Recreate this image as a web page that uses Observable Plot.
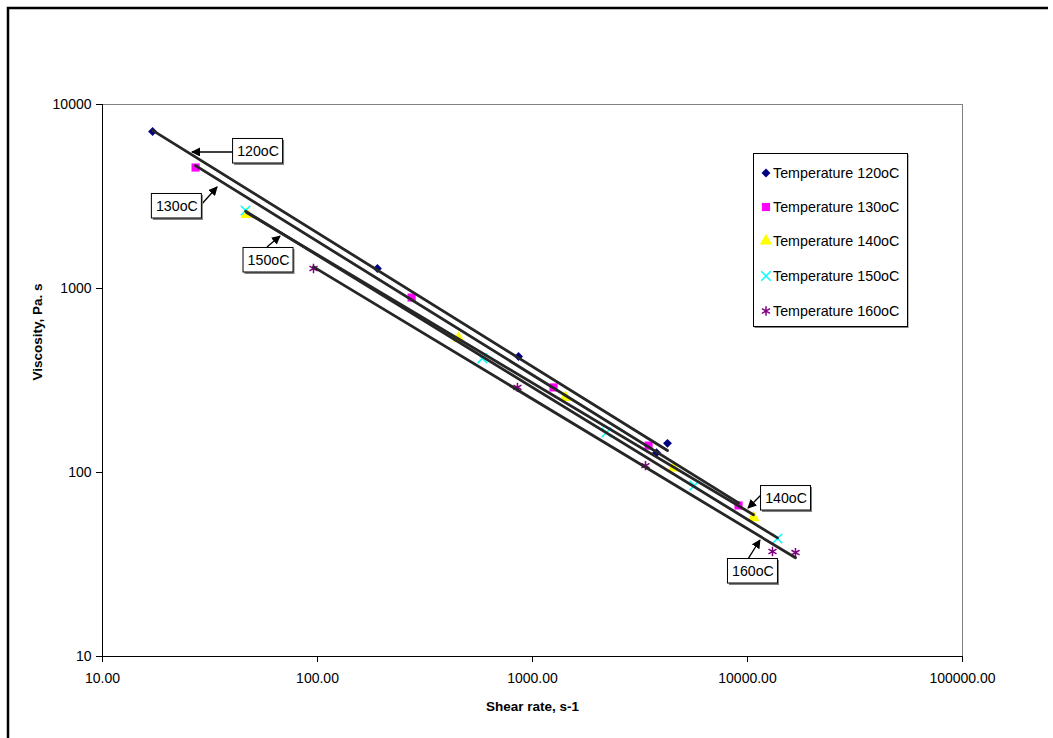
<!DOCTYPE html>
<html><head><meta charset="utf-8">
<script src="https://cdn.jsdelivr.net/npm/d3@7"></script>
<script src="https://cdn.jsdelivr.net/npm/@observablehq/plot@0.6"></script>
<style>
body{margin:0;background:#fff;}
#chart{position:relative;width:1053px;height:738px;}
</style></head><body><div id="chart"></div>
<script>
// ---- data ----
const temps = ["120oC", "130oC", "140oC", "150oC", "160oC"];
const legendLabels = ["Temperature 120oC", "Temperature 130oC", "Temperature 140oC", "Temperature 150oC", "Temperature 160oC"];
const shear120 = [17.1, 190, 861, 3775, 4245];
const visc120  = [7130, 1285, 427, 128, 144];
const shear130 = [27.1, 274, 1253, 3466, 9084];
const visc130  = [4545, 893, 290, 140, 66.2];
const shear140 = [46.8, 453, 1424, 4527, 10660];
const visc140  = [2524, 535, 256, 106, 56.9];
const shear150 = [46.3, 585, 2208, 5666, 13790];
const visc150  = [2655, 417, 165, 85, 43.8];
const shear160 = [95.8, 851, 3354, 13070, 16720];
const visc160  = [1285, 290, 109, 37.2, 36.7];
const xTicks = [10, 100, 1000, 10000, 100000];
const yTicks = [10, 100, 1000, 10000];
const xTitle = "Shear rate, s-1";
const yTitle = "Viscosity, Pa. s";
// callout annotations (data coordinates): label box centre, arrow start, arrow tip
const notes = [
  {text: "120oC", bx: 53.2, by: 5555, sx: 40.7, sy: 5485, ex: 26.2, ey: 5485},
  {text: "130oC", bx: 22.3, by: 2791, sx: 28.3, sy: 2755, ex: 34.3, ey: 3539},
  {text: "150oC", bx: 59.5, by: 1420, sx: 58.5, sy: 1670, ex: 67.3, ey: 1917},
  {text: "140oC", bx: 15190, by: 72.2, sx: 11740, sy: 75.9, ex: 10110, ey: 63.7},
  {text: "160oC", bx: 10660, by: 28.97, sx: 10110, sy: 33.7, ex: 11490, ey: 42.7}
];

// ---- styles ----
const shears = [shear120, shear130, shear140, shear150, shear160];
const viscs = [visc120, visc130, visc140, visc150, visc160];
const styles = [
  {symbol: "diamond2", fill: "#000080", stroke: "none", r: 4.0, sw: 0},
  {symbol: "square", fill: "#FF00FF", stroke: "none", r: 4.6, sw: 0},
  {symbol: "triangle", fill: "#FFFF00", stroke: "none", r: 4.6, sw: 0},
  {symbol: "times", fill: "none", stroke: "#00FFFF", r: 4.4, sw: 1.5},
  {symbol: "asterisk", fill: "none", stroke: "#800080", r: 4.4, sw: 1.5}
];
const d3sym = {diamond2: d3.symbolDiamond2, square: d3.symbolSquare, triangle: d3.symbolTriangle, times: d3.symbolTimes, asterisk: d3.symbolAsterisk};

const series = temps.map((t, i) => ({
  name: t,
  rows: shears[i].map((x, j) => ({shear: x, visc: viscs[i][j]})),
  ...styles[i]
}));

function powerFit(rows) {
  const lx = rows.map(d => Math.log10(d.shear)), ly = rows.map(d => Math.log10(d.visc));
  const mx = d3.mean(lx), my = d3.mean(ly);
  const b = d3.sum(lx, (v, k) => (v - mx) * (ly[k] - my)) / d3.sum(lx, v => (v - mx) ** 2);
  const a = my - b * mx;
  const [x0, x1] = d3.extent(rows, d => d.shear);
  return [x0, x1].map(x => ({shear: x, visc: 10 ** (a + b * Math.log10(x))}));
}

const font = "Arial, 'Liberation Sans', sans-serif";

const marks = [
  Plot.frame({stroke: "#808080", strokeWidth: 1}),
  Plot.ruleX([10], {stroke: "#000"}),
  Plot.ruleY([10], {stroke: "#000"}),
  Plot.axisX({ticks: xTicks, tickFormat: d3.format(".2f"), tickSize: 6, tickPadding: 11, label: null, fontSize: 14}),
  Plot.axisY({ticks: yTicks, tickFormat: d3.format("d"), tickSize: 6, tickPadding: 5, label: null, fontSize: 14}),
  Plot.text([xTitle], {frameAnchor: "bottom", dy: 50, fontWeight: "bold", fontSize: 13.5, lineAnchor: "middle"}),
  Plot.text([yTitle], {frameAnchor: "left", dx: -65, rotate: -90, fontWeight: "bold", fontSize: 13.5, lineAnchor: "middle"})
];
for (const s of series) {
  marks.push(Plot.dot(s.rows, {x: "shear", y: "visc", symbol: () => s.symbol, fill: s.fill, stroke: s.stroke, strokeWidth: s.sw, r: s.r}));
}
for (const s of series) {
  marks.push(Plot.line(powerFit(s.rows), {x: "shear", y: "visc", stroke: "#262626", strokeWidth: 2.8}));
}

const plot = Plot.plot({
  width: 1053, height: 738,
  marginLeft: 102, marginRight: 91, marginTop: 104, marginBottom: 82,
  x: {type: "log", domain: [10, 100000]},
  y: {type: "log", domain: [10, 10000]},
  symbol: {type: "identity"},
  style: {fontFamily: font, fontSize: "14px", background: "white", color: "black", overflow: "visible"},
  marks
});
document.getElementById("chart").appendChild(plot);

const svg = d3.select(plot);
const X = plot.scale("x"), Y = plot.scale("y");

// outer chart border
svg.append("path").attr("d", "M8,740V8H1048").attr("fill", "none").attr("stroke", "#000").attr("stroke-width", 2.5);

// callouts
svg.append("defs").append("marker").attr("id", "ah").attr("viewBox", "0 0 10 10")
  .attr("refX", 9).attr("refY", 5).attr("markerWidth", 9).attr("markerHeight", 9)
  .attr("markerUnits", "userSpaceOnUse").attr("orient", "auto")
  .append("path").attr("d", "M0,0L10,5L0,10z").attr("fill", "#000");
const ng = svg.append("g").attr("font-family", font).attr("font-size", 14.2).attr("text-anchor", "middle");
for (const n of notes) {
  const cx = X.apply(n.bx), cy = Y.apply(n.by);
  ng.append("line").attr("x1", X.apply(n.sx)).attr("y1", Y.apply(n.sy))
    .attr("x2", X.apply(n.ex)).attr("y2", Y.apply(n.ey))
    .attr("stroke", "#000").attr("stroke-width", 1.3).attr("marker-end", "url(#ah)");
  ng.append("rect").attr("x", cx - 24).attr("y", cy - 11).attr("width", 50).attr("height", 25).attr("fill", "#808080");
  ng.append("rect").attr("x", cx - 25.5).attr("y", cy - 12.5).attr("width", 50).attr("height", 24.5)
    .attr("fill", "#fff").attr("stroke", "#000").attr("stroke-width", 1);
  ng.append("text").attr("x", cx).attr("y", cy).attr("dy", "0.36em").text(n.text);
}

// legend
const lg = svg.append("g").attr("font-family", font).attr("font-size", 14.3).attr("text-anchor", "start");
lg.append("rect").attr("x", 754.5).attr("y", 154).attr("width", 154).attr("height", 174).attr("fill", "#808080");
lg.append("rect").attr("x", 753.5).attr("y", 153.5).attr("width", 154).attr("height", 173)
  .attr("fill", "#fff").attr("stroke", "#000").attr("stroke-width", 1);
const ly0 = [173, 207, 241, 276, 311];
series.forEach((s, i) => {
  const g = lg.append("g").attr("transform", `translate(0,${ly0[i]})`);
  g.append("path").attr("transform", "translate(766,0)")
    .attr("d", d3.symbol(d3sym[s.symbol], Math.PI * s.r * s.r)())
    .attr("fill", s.fill).attr("stroke", s.stroke).attr("stroke-width", s.sw);
  g.append("text").attr("x", 773).attr("dy", "0.36em").text(legendLabels[i]);
});
</script></body></html>
